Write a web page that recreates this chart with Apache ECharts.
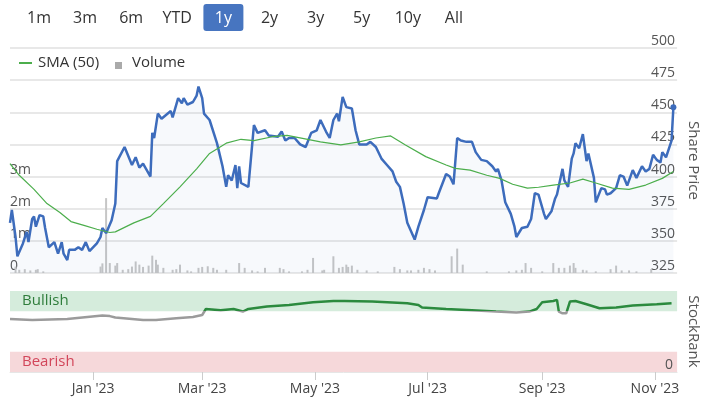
<!DOCTYPE html>
<html>
<head>
<meta charset="utf-8">
<script src="https://cdn.jsdelivr.net/npm/echarts@6/dist/echarts.min.js"></script>
<style>
  html, body { margin: 0; padding: 0; background: #fff; }
  #chart { width: 709px; height: 397px; }
</style>
</head>
<body>
<div id="chart"></div>
<script>
// values, x given as days after the first date (17 Nov 2022)
const endDay = 361;
const priceDays = [0,1,3,4,7,9,10,12,13,14,16,18,19,21,24,26,28,29,31,32,35,37,39,41,43,47,49,50,52,55,57,58,62,66,68,70,72,76,77,78,80,82,87,88,91,93,94,96,99,101,102,104,105,108,112,115,117,118,120,122,123,124,125,129,130,132,134,138,140,145,147,149,151,154,157,158,160,163,166,168,171,173,175,177,178,180,182,185,187,189,193,195,196,198,201,204,205,207,209,211,213,215,219,221,222,224,226,231,232,236,238,240,242,244,247,250,251,252,255,258,259,261,263,264,266,268,271,273,274,277,280,282,284,286,289,290,293,295,296,299,300,302,304,305,306,308,310,312,313,316,317,320,322,323,325,328,330,332,334,337,339,340,342,344,346,348,350,352,353,355,356,358,359];
const prices = [364,374,353,338,348,357,349,367,369,361,370,369,360,345,349,340,349,340,335,343,343,345,343,349,342,348,353,360,356,366,379,412,423,409,415,407,410,400,434,430,449,445,451,446,461,457,461,456,458,463,470,461,449,444,426,408,392,401,397,409,391,408,395,392,392,440,434,436,432,431,435,428,430,430,425,426,423,434,436,444,435,430,444,449,443,462,454,453,436,425,425,427,428,423,414,409,408,404,396,392,379,364,351,361,360,374,384,383,387,402,400,394,430,428,427,427,428,419,413,412,412,408,404,406,397,380,371,361,353,360,361,367,387,386,371,367,373,383,386,406,397,392,414,418,426,422,433,412,418,399,380,391,390,386,387,391,401,400,393,405,399,399,408,404,406,417,413,411,419,415,415,428,454];

const smaDays = [0,5,13,20,27,33,40,47,54,57,67,76,83,92,101,108,117,125,132,142,150,168,179,189,198,206,214,225,236,241,249,258,265,272,280,286,294,303,310,317,326,335,344,353,359];
const sma = [410,401,390,379,372,365,362,359,356.5,357,364,369,379,392,406,418,426,429,428,431,432,427,424.6,427,430,431.6,424.6,415.5,409,406.4,405,401,398.6,394,391,391.7,393.4,395,398,395,391,390,393.4,398.6,404];

// volume in millions
const volumeDays = [3,5,8,11,14,15,18,49,50,52,54,57,58,61,64,66,68,70,72,75,77,79,80,83,88,90,92,96,98,102,104,107,110,112,117,124,127,131,134,138,146,148,151,158,161,164,169,170,175,178,180,182,183,185,188,193,199,208,211,215,217,221,224,227,230,239,242,245,258,270,274,277,279,282,288,294,297,300,303,305,306,310,312,317,325,328,331,335,339,347];
const volumes = [0.2,0.1,0.12,0.08,0.1,0.12,0.05,0.2,0.3,2.33,0.31,0.23,0.31,0.1,0.12,0.2,0.36,0.26,0.19,0.23,0.54,0.41,0.26,0.16,0.1,0.12,0.26,0.08,0.05,0.16,0.19,0.21,0.16,0.1,0.1,0.31,0.16,0.08,0.05,0.16,0.16,0.12,0.05,0.05,0.1,0.47,0.08,0.1,0.52,0.16,0.19,0.26,0.19,0.23,0.1,0.08,0.05,0.19,0.12,0.08,0.08,0.1,0.16,0.12,0.08,0.52,0.76,0.26,0.05,0.05,0.08,0.1,0.31,0.16,0.05,0.31,0.16,0.16,0.23,0.31,0.16,0.1,0.08,0.05,0.12,0.23,0.08,0.08,0.05,0.12];

const rankDays = [0,12,31,50,54,57,72,79,90,99,104,106,114,121,126,129,139,151,164,175,181,196,215,221,223,236,250,263,274,281,285,288,294,296,297,299,301,303,306,312,319,328,337,350,358];
const ranks = [65.5,64.3,65.5,69.7,69,67.2,64.3,64.3,66.4,68,70.4,77.8,76.2,77.8,74.6,77.8,80.8,82.8,86.1,87.7,87.7,87,84.9,82.8,79.6,77.8,76.2,74.6,73.4,74.6,77.8,86.1,87.7,89,74.6,72.5,72.5,87,87.7,83.6,78.7,79.6,82,83.6,84.9];
const bullishFrom = 75;

const monthTicks = [[2023,0,1],[2023,2,1],[2023,4,1],[2023,6,1],[2023,8,1],[2023,10,1]];
const monthLabels = ["Jan '23", "Mar '23", "May '23", "Jul '23", "Sep '23", "Nov '23"];
const ranges = ['1m','3m','6m','YTD','1y','2y','3y','5y','10y','All'];
const activeRange = '1y';

const DAY = 864e5;
const t0 = new Date(2022, 10, 17).getTime();
const toTime = d => t0 + d * DAY;
const pair = (days, vals) => days.map((d, i) => [toTime(d), vals[i]]);
const tickTimes = monthTicks.map(m => new Date(m[0], m[1], m[2]).getTime());

const FONT = '"Open Sans", sans-serif';
const chart = echarts.init(document.getElementById('chart'));

// range buttons along the top
const buttons = ranges.map((r, i) => {
  const cx = 39 + i * 46.1;
  const on = r === activeRange;
  const kids = [];
  if (on) {
    kids.push({ type: 'rect', shape: { x: cx - 20, y: 4, width: 40, height: 27, r: 3 }, style: { fill: '#4775c0' } });
  }
  kids.push({ type: 'text', x: cx, y: 18, style: { text: r, fill: on ? '#fff' : '#333', font: '16px ' + FONT, align: 'center', verticalAlign: 'middle' } });
  return { type: 'group', children: kids };
});

const legendBits = [
  { type: 'line', shape: { x1: 19, y1: 63, x2: 32, y2: 63 }, style: { stroke: '#4cae4c', lineWidth: 2 } },
  { type: 'text', x: 38, y: 63, style: { text: 'SMA (50)', fill: '#333', font: '15px ' + FONT, verticalAlign: 'middle' } },
  { type: 'rect', shape: { x: 115, y: 62, width: 7, height: 7 }, style: { fill: '#aaaaaa' } },
  { type: 'text', x: 132, y: 63, style: { text: 'Volume', fill: '#333', font: '15px ' + FONT, verticalAlign: 'middle' } },
];

const option = {
  animation: false,
  textStyle: { fontFamily: FONT },
  graphic: buttons.concat(legendBits),
  grid: [
    { left: 10, right: 31, top: 48, bottom: 124 },
    { left: 10, right: 31, top: 291, bottom: 25 },
  ],
  xAxis: [
    {
      type: 'value', gridIndex: 0, min: toTime(0), max: toTime(endDay),
      axisLine: { show: false }, axisTick: { show: false }, axisLabel: { show: false }, splitLine: { show: false },
    },
    {
      type: 'value', gridIndex: 1, min: toTime(0), max: toTime(endDay),
      axisLine: { lineStyle: { color: '#e6e6e6' } },
      axisTick: { customValues: tickTimes, length: 8, lineStyle: { color: '#cccccc' } },
      axisLabel: {
        customValues: tickTimes, color: '#444', fontSize: 14, margin: 10,
        formatter: v => monthLabels[tickTimes.indexOf(v)] || '',
      },
      splitLine: { show: false },
    },
  ],
  yAxis: [
    {
      type: 'value', gridIndex: 0, position: 'right', min: 325, max: 500, interval: 25,
      name: 'Share Price', nameLocation: 'middle', nameRotate: -90, nameGap: 6,
      nameTextStyle: { fontSize: 15, color: '#555' },
      axisLine: { show: false }, axisTick: { show: false },
      axisLabel: { inside: true, verticalAlign: 'bottom', fontSize: 14, color: '#555', margin: 2 },
      splitLine: { lineStyle: { color: '#e8e8e8', width: 2 } },
    },
    {
      type: 'value', gridIndex: 0, position: 'left', min: 0, max: 7, interval: 1,
      axisLine: { show: false }, axisTick: { show: false },
      axisLabel: {
        inside: true, verticalAlign: 'bottom', fontSize: 14, color: '#555', margin: 0,
        formatter: v => (v === 0 ? '0' : v <= 3 ? v + 'm' : ''),
      },
      splitLine: { show: false },
    },
    {
      type: 'value', gridIndex: 1, position: 'right', min: 0, max: 100, interval: 25, z: 10,
      name: 'StockRank', nameLocation: 'middle', nameRotate: -90, nameGap: 6,
      nameTextStyle: { fontSize: 15, color: '#555' },
      axisLine: { show: false }, axisTick: { show: false },
      axisLabel: {
        inside: true, verticalAlign: 'bottom', fontSize: 14, color: '#555', margin: 4,
        formatter: v => (v === 0 ? '0' : ''),
      },
      splitLine: { show: false },
    },
  ],
  series: [
    {
      name: 'Volume', type: 'bar', xAxisIndex: 0, yAxisIndex: 1,
      data: pair(volumeDays, volumes), barWidth: 2,
      itemStyle: { color: '#c6c6c6' }, z: 1,
    },
    {
      name: 'Price', type: 'line', xAxisIndex: 0, yAxisIndex: 0,
      data: pair(priceDays, prices),
      symbol: 'circle', showSymbol: true,
      symbolSize: (v, p) => (p.dataIndex === prices.length - 1 ? 6 : 0),
      lineStyle: { color: '#3d6cbc', width: 2.5 },
      itemStyle: { color: '#3d6cbc' },
      areaStyle: { color: 'rgba(70,110,190,0.06)', origin: 'start' },
      z: 3,
    },
    {
      name: 'SMA (50)', type: 'line', xAxisIndex: 0, yAxisIndex: 0,
      data: pair(smaDays, sma), showSymbol: false,
      lineStyle: { color: '#4cae4c', width: 1.2 }, z: 4,
    },
    {
      name: 'StockRank', type: 'line', xAxisIndex: 1, yAxisIndex: 2,
      data: pair(rankDays, ranks), showSymbol: false,
      lineStyle: { width: 2.5, color: '#2b8a3e' },
      markArea: {
        silent: true,
        label: { position: 'insideLeft', fontSize: 15, distance: 12 },
        data: [
          [{ yAxis: bullishFrom, name: 'Bullish', itemStyle: { color: '#d5ecdc' }, label: { color: '#2f7d3b' } }, { yAxis: 100 }],
          [{ yAxis: 0, name: 'Bearish', itemStyle: { color: '#f6d8da' }, label: { color: '#d2465a' } }, { yAxis: 25 }],
        ],
      },
    },
  ],
};

chart.setOption(option);

// rank line: green inside the bullish band, grey below it
const yTop = chart.convertToPixel({ yAxisIndex: 2 }, 100);
const yBot = chart.convertToPixel({ yAxisIndex: 2 }, 0);
const cut = (100 - bullishFrom) / 100;
chart.setOption({
  series: [{}, {}, {}, {
    lineStyle: {
      color: {
        type: 'linear', global: true, x: 0, y: yTop, x2: 0, y2: yBot,
        colorStops: [
          { offset: 0, color: '#2b8a3e' }, { offset: cut, color: '#2b8a3e' },
          { offset: cut, color: '#9b9b9b' }, { offset: 1, color: '#9b9b9b' },
        ],
      },
    },
  }],
});
</script>
</body>
</html>
